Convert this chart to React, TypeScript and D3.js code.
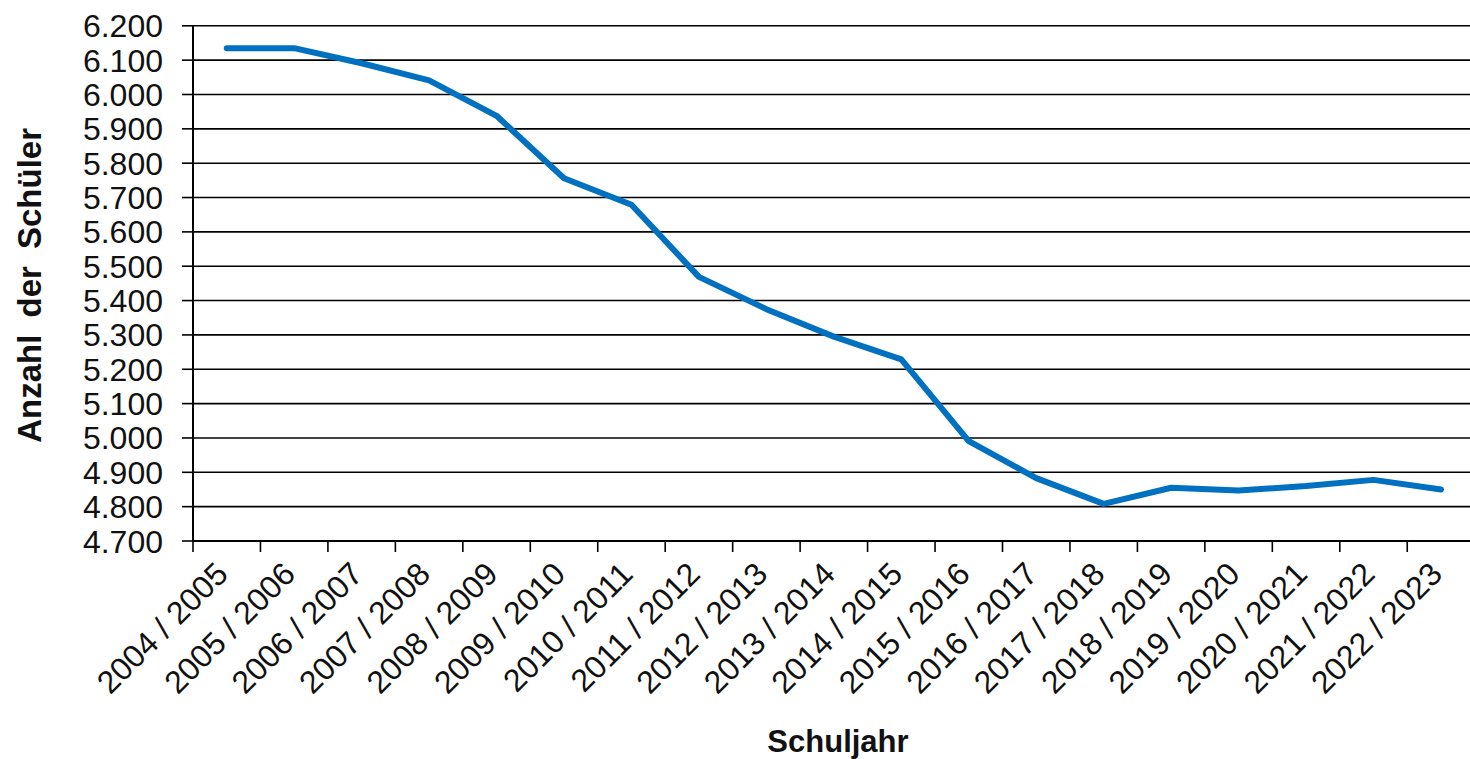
import * as d3 from "d3";
import { useEffect, useRef } from "react";

const years = [
  "2004 / 2005", "2005 / 2006", "2006 / 2007", "2007 / 2008", "2008 / 2009",
  "2009 / 2010", "2010 / 2011", "2011 / 2012", "2012 / 2013", "2013 / 2014",
  "2014 / 2015", "2015 / 2016", "2016 / 2017", "2017 / 2018", "2018 / 2019",
  "2019 / 2020", "2020 / 2021", "2021 / 2022", "2022 / 2023",
];
const pupils = [
  6135, 6135, 6091, 6041, 5938, 5756, 5679, 5469, 5375, 5295,
  5229, 4991, 4883, 4808, 4855, 4847, 4860, 4878, 4850,
];
const yTicks = [4700, 4800, 4900, 5000, 5100, 5200, 5300, 5400, 5500, 5600, 5700, 5800, 5900, 6000, 6100, 6200];

const W = 1470;
const H = 759;
const FONT = "'Liberation Sans', Arial, sans-serif";
const fmt = (v: number) => d3.format(",")(v).replace(",", ".");

export default function App() {
  const ref = useRef<SVGSVGElement>(null);

  useEffect(() => {
    const svg = d3.select(ref.current);
    svg.selectAll("*").remove();

    const left = 193, right = 1474.7, top = 25.8, bottom = 541;
    const x = d3.scaleBand<string>().domain(years).range([left, right]).padding(0);
    const y = d3.scaleLinear().domain([4700, 6200]).range([bottom, top]);

    svg.append("rect").attr("width", W).attr("height", H).attr("fill", "#fff");

    // gridlines
    svg.selectAll("line.grid")
      .data(yTicks.slice(1))
      .enter()
      .append("line")
      .attr("x1", left).attr("x2", right)
      .attr("y1", (d) => y(d)).attr("y2", (d) => y(d))
      .attr("stroke", "#000").attr("stroke-width", 1.6);

    // y ticks
    svg.selectAll("line.ytick")
      .data(yTicks)
      .enter()
      .append("line")
      .attr("x1", left - 11).attr("x2", left)
      .attr("y1", (d) => y(d)).attr("y2", (d) => y(d))
      .attr("stroke", "#000").attr("stroke-width", 1.6);
    svg.selectAll("text.ylab")
      .data(yTicks)
      .enter()
      .append("text")
      .attr("x", 163).attr("y", (d) => y(d))
      .attr("dy", "0.36em")
      .attr("text-anchor", "end")
      .style("font", `32px ${FONT}`)
      .attr("fill", "#111")
      .text((d) => fmt(d));

    // axes
    svg.append("line").attr("x1", left).attr("x2", left).attr("y1", top).attr("y2", bottom)
      .attr("stroke", "#000").attr("stroke-width", 2);
    svg.append("line").attr("x1", left).attr("x2", right).attr("y1", bottom).attr("y2", bottom)
      .attr("stroke", "#000").attr("stroke-width", 2);

    // x ticks at band boundaries
    const bounds = years.map((d) => x(d)!).concat([right]);
    svg.selectAll("line.xtick")
      .data(bounds)
      .enter()
      .append("line")
      .attr("x1", (d) => d).attr("x2", (d) => d)
      .attr("y1", bottom).attr("y2", bottom + 11)
      .attr("stroke", "#000").attr("stroke-width", 1.6);

    const bw = x.bandwidth();
    svg.selectAll("text.xlab")
      .data(years)
      .enter()
      .append("text")
      .attr("transform", (d) => `translate(${x(d)! + bw / 2 + 3},${bottom + 35}) rotate(-45)`)
      .attr("text-anchor", "end")
      .style("font", `32px ${FONT}`)
      .attr("fill", "#111")
      .text((d) => d);

    // line
    const line = d3.line<number>()
      .x((_, i) => x(years[i])! + bw / 2)
      .y((d) => y(d));
    svg.append("path")
      .datum(pupils)
      .attr("d", line)
      .attr("fill", "none")
      .attr("stroke", "#0070C0")
      .attr("stroke-width", 6)
      .attr("stroke-linejoin", "round")
      .attr("stroke-linecap", "round");

    // axis titles
    svg.append("text")
      .attr("transform", `translate(41,${(top + bottom) / 2 + 2}) rotate(-90)`)
      .attr("text-anchor", "middle")
      .style("font", `bold 33px ${FONT}`)
      .style("word-spacing", "8px")
      .attr("fill", "#111")
      .text("Anzahl der Schüler");
    svg.append("text")
      .attr("x", 838).attr("y", 752)
      .attr("text-anchor", "middle")
      .style("font", `bold 31px ${FONT}`)
      .attr("fill", "#111")
      .text("Schuljahr");
  }, []);

  return (
    <div style={{ position: "absolute", left: 0, top: 0 }}>
      <svg ref={ref} width={W} height={H} style={{ display: "block" }} />
    </div>
  );
}
